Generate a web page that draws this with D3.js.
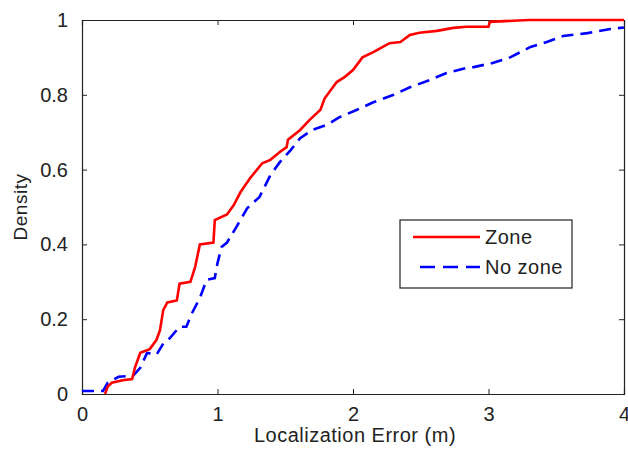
<!DOCTYPE html>
<html>
<head>
<meta charset="utf-8">
<script src="https://cdn.jsdelivr.net/npm/d3@7"></script>
<style>
  body { margin: 0; background: #fff; }
  text { font-family: "Liberation Sans", Arial, sans-serif; }
</style>
</head>
<body>
<div id="chart"></div>
<script>
// data
const zoneX = [0.17, 0.19, 0.22, 0.30, 0.37, 0.39, 0.43, 0.50, 0.55, 0.575, 0.60, 0.63, 0.70, 0.72, 0.80, 0.835, 0.87, 0.97, 0.98, 1.07, 1.12, 1.17, 1.24, 1.33, 1.39, 1.46, 1.51, 1.52, 1.61, 1.68, 1.76, 1.79, 1.88, 1.94, 2.00, 2.07, 2.15, 2.22, 2.27, 2.35, 2.42, 2.49, 2.62, 2.74, 2.84, 3.00, 3.01, 3.30, 4.00]
const zoneY = [0.00, 0.02, 0.03, 0.037, 0.04, 0.07, 0.11, 0.12, 0.145, 0.17, 0.225, 0.245, 0.25, 0.295, 0.30, 0.34, 0.40, 0.405, 0.465, 0.48, 0.505, 0.54, 0.577, 0.617, 0.626, 0.647, 0.66, 0.68, 0.706, 0.733, 0.76, 0.79, 0.834, 0.848, 0.866, 0.90, 0.914, 0.928, 0.938, 0.941, 0.96, 0.966, 0.971, 0.979, 0.982, 0.982, 0.995, 1.0, 1.0]

const noZoneX = [0, 0.155, 0.19, 0.27, 0.34, 0.38, 0.43, 0.48, 0.55, 0.60, 0.65, 0.72, 0.77, 0.81, 0.87, 0.92, 0.98, 1.00, 1.03, 1.07, 1.14, 1.22, 1.31, 1.39, 1.46, 1.54, 1.61, 1.70, 1.81, 1.90, 2.03, 2.15, 2.30, 2.42, 2.57, 2.69, 2.84, 2.89, 3.03, 3.16, 3.31, 3.43, 3.55, 3.73, 3.90, 4.00]
const noZoneY = [0.008, 0.008, 0.03, 0.046, 0.048, 0.05, 0.07, 0.11, 0.105, 0.135, 0.15, 0.18, 0.18, 0.215, 0.257, 0.305, 0.31, 0.35, 0.393, 0.405, 0.447, 0.497, 0.527, 0.585, 0.62, 0.652, 0.684, 0.706, 0.72, 0.74, 0.76, 0.78, 0.80, 0.82, 0.84, 0.858, 0.872, 0.874, 0.885, 0.90, 0.928, 0.941, 0.957, 0.965, 0.976, 0.98]

const xTicks = [0, 1, 2, 3, 4]
const yTicks = [0, 0.2, 0.4, 0.6, 0.8, 1]
const seriesNames = ["Zone", "No zone"]

// dimensions
const W = 628, H = 453
const margin = {top: 20, right: 4, bottom: 59, left: 82},
width = W - margin.left - margin.right,
height = H - margin.top - margin.bottom;

const svg = d3.select("#chart")
.append("svg")
.attr("width", W)
.attr("height", H)
.append("g")
.attr("transform", `translate(${margin.left}, ${margin.top})`);

const x = d3.scaleLinear().domain([0, 4]).range([0, width]);
const y = d3.scaleLinear().domain([0, 1]).range([height, 0]);

const fmt = d => d === 0 || d === 1 || d === 2 || d === 3 || d === 4 ? String(d) : d3.format(".1f")(d);

// bottom + top axis (ticks inside)
const xb = svg.append("g")
.attr("transform", `translate(0, ${height})`)
.call(d3.axisBottom(x).tickValues(xTicks).tickSize(-5).tickPadding(13).tickFormat(fmt));
svg.append("g")
.call(d3.axisTop(x).tickValues(xTicks).tickSize(-5).tickFormat(""));

// left + right axis
svg.append("g")
.call(d3.axisLeft(y).tickValues(yTicks).tickSize(-5).tickPadding(14).tickFormat(fmt));
svg.append("g")
.attr("transform", `translate(${width}, 0)`)
.call(d3.axisRight(y).tickValues(yTicks).tickSize(-5).tickFormat(""));

svg.selectAll(".domain").attr("stroke", "#222").attr("stroke-width", 1.2);
svg.selectAll(".tick line").attr("stroke", "#222");
svg.selectAll(".tick text")
.style("font-size", "20px")
.attr("fill", "#222");

// lines
const line = d3.line()
.x(d => x(d[0]))
.y(d => y(d[1]));

const noZoneData = noZoneX.map((v, i) => [v, noZoneY[i]]);
const zoneData = zoneX.map((v, i) => [v, zoneY[i]]);

svg.append("path")
.datum(noZoneData)
.attr("fill", "none")
.attr("stroke", "#0000ff")
.attr("stroke-width", 2.6)
.attr("stroke-dasharray", "12,7")
.attr("d", line);

svg.append("path")
.datum(zoneData)
.attr("fill", "none")
.attr("stroke", "#ff0000")
.attr("stroke-width", 2.6)
.attr("d", line);

// axis labels
svg.append("text")
.attr("x", width / 2 + 2)
.attr("y", height + 48)
.attr("text-anchor", "middle")
.style("font-size", "20px")
.style("letter-spacing", "0.5px")
.attr("fill", "#222")
.text("Localization Error (m)");

svg.append("text")
.attr("transform", `translate(${-55}, ${height / 2}) rotate(-90)`)
.attr("text-anchor", "middle")
.style("font-size", "19px")
.style("letter-spacing", "0.5px")
.attr("fill", "#222")
.text("Density");

// legend
const lg = svg.append("g").attr("transform", `translate(${400 - margin.left}, ${220 - margin.top})`);
lg.append("rect")
.attr("width", 172).attr("height", 68)
.attr("fill", "#fff").attr("stroke", "#222").attr("stroke-width", 1.2);

const legendRows = [
  {name: seriesNames[0], color: "#ff0000", dash: null, x0: 13, y: 17},
  {name: seriesNames[1], color: "#0000ff", dash: "15,8", x0: 20, y: 47}
];
legendRows.forEach(r => {
  lg.append("line")
  .attr("x1", r.x0).attr("x2", 80)
  .attr("y1", r.y).attr("y2", r.y)
  .attr("stroke", r.color)
  .attr("stroke-width", 2.6)
  .attr("stroke-dasharray", r.dash);
  lg.append("text")
  .attr("x", 85).attr("y", r.y + 7)
  .style("font-size", "20px")
  .style("letter-spacing", "0.5px")
  .attr("fill", "#222")
  .text(r.name);
});
</script>
</body>
</html>
